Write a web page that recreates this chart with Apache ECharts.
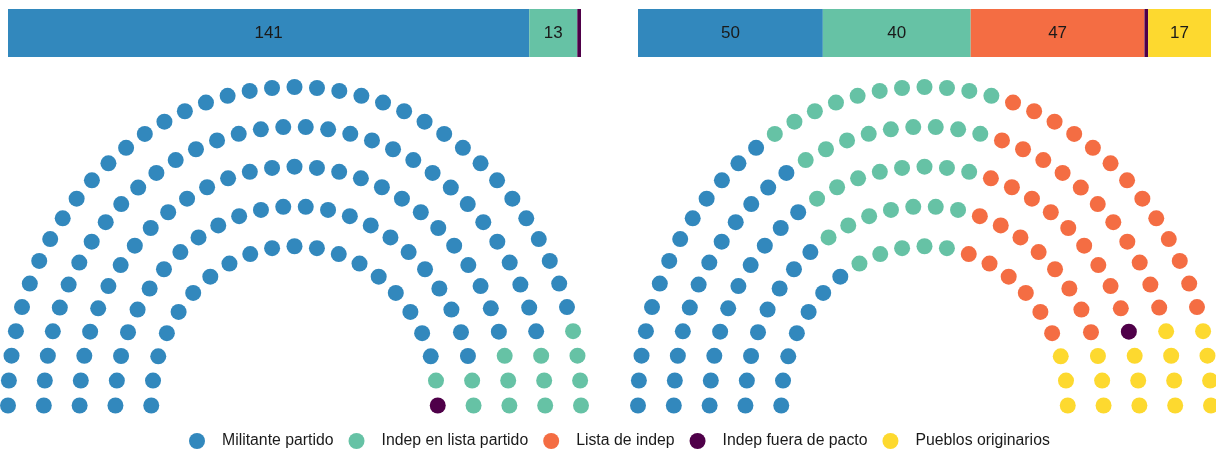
<!DOCTYPE html>
<html>
<head>
<meta charset="utf-8">
<script src="https://cdn.jsdelivr.net/npm/echarts@6/dist/echarts.min.js"></script>
<style>
  html, body { margin: 0; padding: 0; background: #fff; }
  #chart { width: 1216px; height: 451px; }
</style>
</head>
<body>
<div id="chart"></div>
<script>
// seat groups, in the order they fill the hemicycle
const parties = ['Militante partido', 'Indep en lista partido', 'Lista de indep', 'Indep fuera de pacto', 'Pueblos originarios'];
const seatsLeft = [141, 13, 0, 1, 0];
const seatsRight = [50, 40, 47, 1, 17];
const rowRadii = [1, 1.25, 1.5, 1.75, 2]; // inner -> outer row

const colors = ['#3288bd', '#66c2a5', '#f46d43', '#4f0049', '#fdd92f'];
const font = 'Liberation Sans, Arial, sans-serif';

// build the hemicycle: seats per row in proportion to the radius,
// then walk them left to right (outer row first on ties)
function hemicycle(seats) {
  const total = seats.reduce((a, b) => a + b, 0);
  const sumR = rowRadii.reduce((a, b) => a + b, 0);
  const spots = [];
  rowRadii.forEach(r => {
    const n = Math.round(total * r / sumR);
    for (let i = 0; i < n; i++) {
      const deg = 180 - 180 * i / (n - 1);
      spots.push({ r, deg: Math.round(deg * 1e6) / 1e6 });
    }
  });
  spots.sort((a, b) => (b.deg - a.deg) || (b.r - a.r));

  const byParty = parties.map(() => []);
  let k = 0;
  seats.forEach((count, p) => {
    for (let j = 0; j < count; j++, k++) {
      const s = spots[k];
      const a = s.deg * Math.PI / 180;
      byParty[p].push([s.r * Math.cos(a), s.r * Math.sin(a)]);
    }
  });
  return byParty;
}

const left = hemicycle(seatsLeft);
const right = hemicycle(seatsRight);

const chart = echarts.init(document.getElementById('chart'));

const grids = [
  { left: 8, width: 573, top: 9, height: 48 },    // bar left
  { left: 638, width: 573, top: 9, height: 48 },  // bar right
  { left: 8, width: 573, top: 87, height: 318.5 },   // seats left
  { left: 638, width: 573, top: 87, height: 318.5 }  // seats right
];

const xAxes = [0, 1].map(i => ({
  gridIndex: i, type: 'value', min: 0, max: 155, show: false
})).concat([2, 3].map(i => ({
  gridIndex: i, type: 'value', min: -2, max: 2, show: false
})));

const yAxes = [0, 1].map(i => ({
  gridIndex: i, type: 'category', data: ['seats'], show: false
})).concat([2, 3].map(i => ({
  gridIndex: i, type: 'value', min: 0, max: 2, show: false
})));

const series = [];

[seatsLeft, seatsRight].forEach((seats, g) => {
  parties.forEach((name, p) => {
    if (!seats[p]) return;
    series.push({
      name,
      type: 'bar',
      stack: 'bar' + g,
      xAxisIndex: g,
      yAxisIndex: g,
      barWidth: '100%',
      data: [seats[p]],
      itemStyle: { color: colors[p] },
      label: {
        show: seats[p] > 1,
        position: 'inside',
        color: '#1a1a1a',
        fontSize: 17,
        fontFamily: font
      },
      silent: true
    });
  });
});

[left, right].forEach((groups, g) => {
  groups.forEach((pts, p) => {
    if (!pts.length) return;
    series.push({
      name: parties[p],
      type: 'scatter',
      xAxisIndex: g + 2,
      yAxisIndex: g + 2,
      symbol: 'circle',
      symbolSize: 16,
      clip: false,
      data: pts,
      itemStyle: { color: colors[p], opacity: 1 }
    });
  });
});

chart.setOption({
  animation: false,
  color: colors,
  grid: grids,
  xAxis: xAxes,
  yAxis: yAxes,
  legend: {
    data: parties.map((name, p) => ({ name, itemStyle: { color: colors[p] } })),
    left: 184,
    top: 428,
    icon: 'circle',
    itemWidth: 16,
    itemHeight: 16,
    itemGap: 15,
    selectedMode: false,
    textStyle: { fontSize: 15.8, color: '#1a1a1a', fontFamily: font, padding: [0, 0, 0, 12] }
  },
  series
});
</script>
</body>
</html>
